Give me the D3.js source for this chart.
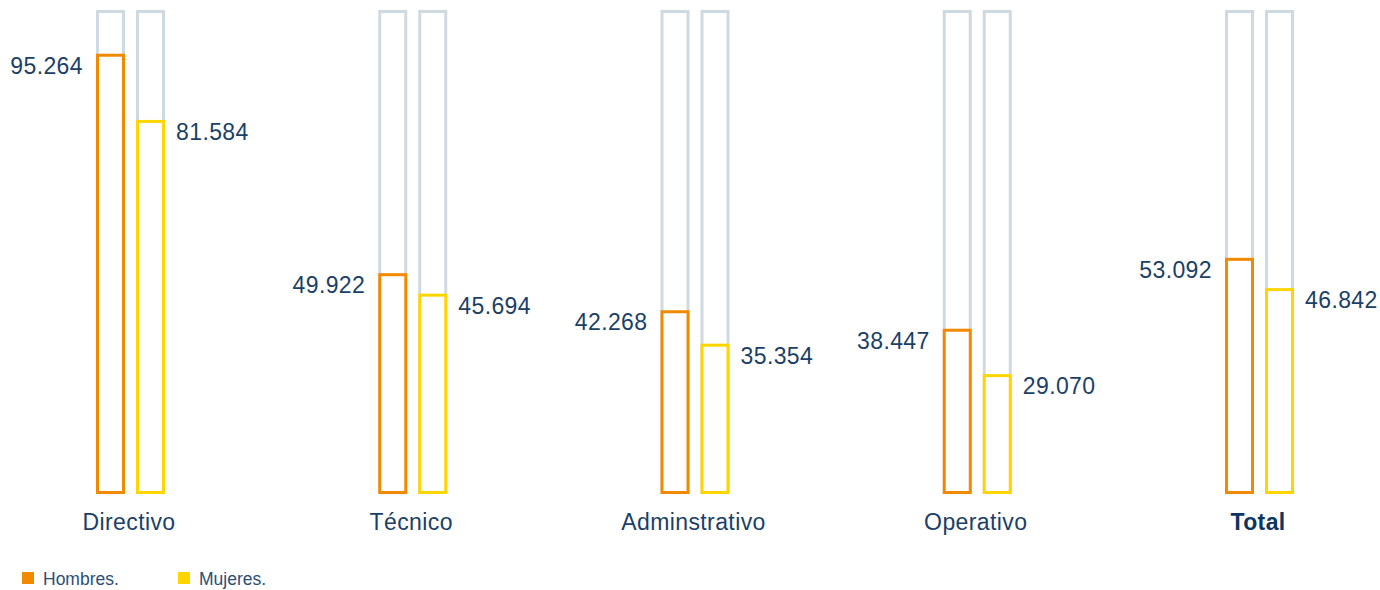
<!DOCTYPE html>
<html>
<head>
<meta charset="utf-8">
<script src="https://cdn.jsdelivr.net/npm/d3@7"></script>
<style>
    body { margin: 0; background: #fff; }
    svg { display: block; font-family: "Liberation Sans", Arial, sans-serif; }
</style>
</head>
<body>
<div id="chart"></div>
<script>
// data
const categories = ["Directivo", "Técnico", "Adminstrativo", "Operativo", "Total"];
const hombres = [95.264, 49.922, 42.268, 38.447, 53.092];
const mujeres = [81.584, 45.694, 35.354, 29.070, 46.842];
const seriesNames = ["Hombres.", "Mujeres."];

const colors = {hombres: "#f18a00", mujeres: "#ffd500", track: "#cfd9e1", text: "#1b3f66"};

const width = 1380, height = 590;
const trackTop = 10, trackBottom = 494;
const barW = 26, barGap = 11, stroke = 3;

const svg = d3.select("#chart").append("svg")
    .attr("width", width)
    .attr("height", height);

// group centres
const x = d3.scalePoint()
    .domain(categories)
    .range([129, 1258]);

// value scale (fitted to the reference drawing)
const y = d3.scaleLinear()
    .domain([4.3, 104.3])
    .range([trackBottom, trackTop]);

const fmt = d3.format(".3f");

const data = categories.map((c, i) => ({cat: c, h: hombres[i], m: mujeres[i]}));

const groups = svg.selectAll(".group")
    .data(data)
    .enter()
    .append("g")
    .attr("class", "group")
    .attr("transform", d => `translate(${x(d.cat)},0)`);

// offsets of the two bars from the group centre
const offs = [-(barGap / 2) - stroke / 2 - barW, barGap / 2 + stroke / 2];

// grey tracks
offs.forEach(o => {
    groups.append("rect")
        .attr("x", o + stroke / 2)
        .attr("y", trackTop + stroke / 2)
        .attr("width", barW)
        .attr("height", trackBottom - trackTop - stroke)
        .attr("fill", "none")
        .attr("stroke", colors.track)
        .attr("stroke-width", stroke);
});

// value bars
const series = [{key: "h", color: colors.hombres, o: offs[0]}, {key: "m", color: colors.mujeres, o: offs[1]}];

series.forEach(s => {
    groups.append("rect")
        .attr("x", s.o + stroke / 2)
        .attr("y", d => y(d[s.key]) + stroke / 2)
        .attr("width", barW)
        .attr("height", d => trackBottom - y(d[s.key]) - stroke)
        .attr("fill", "#fff")
        .attr("stroke", s.color)
        .attr("stroke-width", stroke);
});

// value labels
groups.append("text")
    .attr("x", offs[0] - 13)
    .attr("y", d => y(d.h) + 20)
    .attr("text-anchor", "end")
    .attr("font-size", "23px")
    .attr("letter-spacing", "0.4px")
    .attr("fill", colors.text)
    .text(d => fmt(d.h));

groups.append("text")
    .attr("x", offs[1] + barW + stroke + 11)
    .attr("y", d => y(d.m) + 20)
    .attr("text-anchor", "start")
    .attr("font-size", "23px")
    .attr("letter-spacing", "0.4px")
    .attr("fill", colors.text)
    .text(d => fmt(d.m));

// category labels
groups.append("text")
    .attr("x", 0)
    .attr("y", 530)
    .attr("text-anchor", "middle")
    .attr("font-size", "23px")
    .attr("letter-spacing", "0.4px")
    .attr("font-weight", d => d.cat === "Total" ? "bold" : "normal")
    .attr("fill", d => d.cat === "Total" ? "#0d3561" : colors.text)
    .text(d => d.cat);

// legend
const legend = svg.append("g")
    .attr("transform", "translate(22,572)");

const legendItems = legend.selectAll(".item")
    .data(seriesNames)
    .enter()
    .append("g")
    .attr("transform", (d, i) => `translate(${i * 156},0)`);

legendItems.append("rect")
    .attr("width", 12)
    .attr("height", 12)
    .attr("fill", (d, i) => i === 0 ? colors.hombres : colors.mujeres);

legendItems.append("text")
    .attr("x", 21)
    .attr("y", 12.5)
    .attr("font-size", "17.5px")
    .attr("fill", "#2b4e74")
    .text(d => d);
</script>
</body>
</html>
